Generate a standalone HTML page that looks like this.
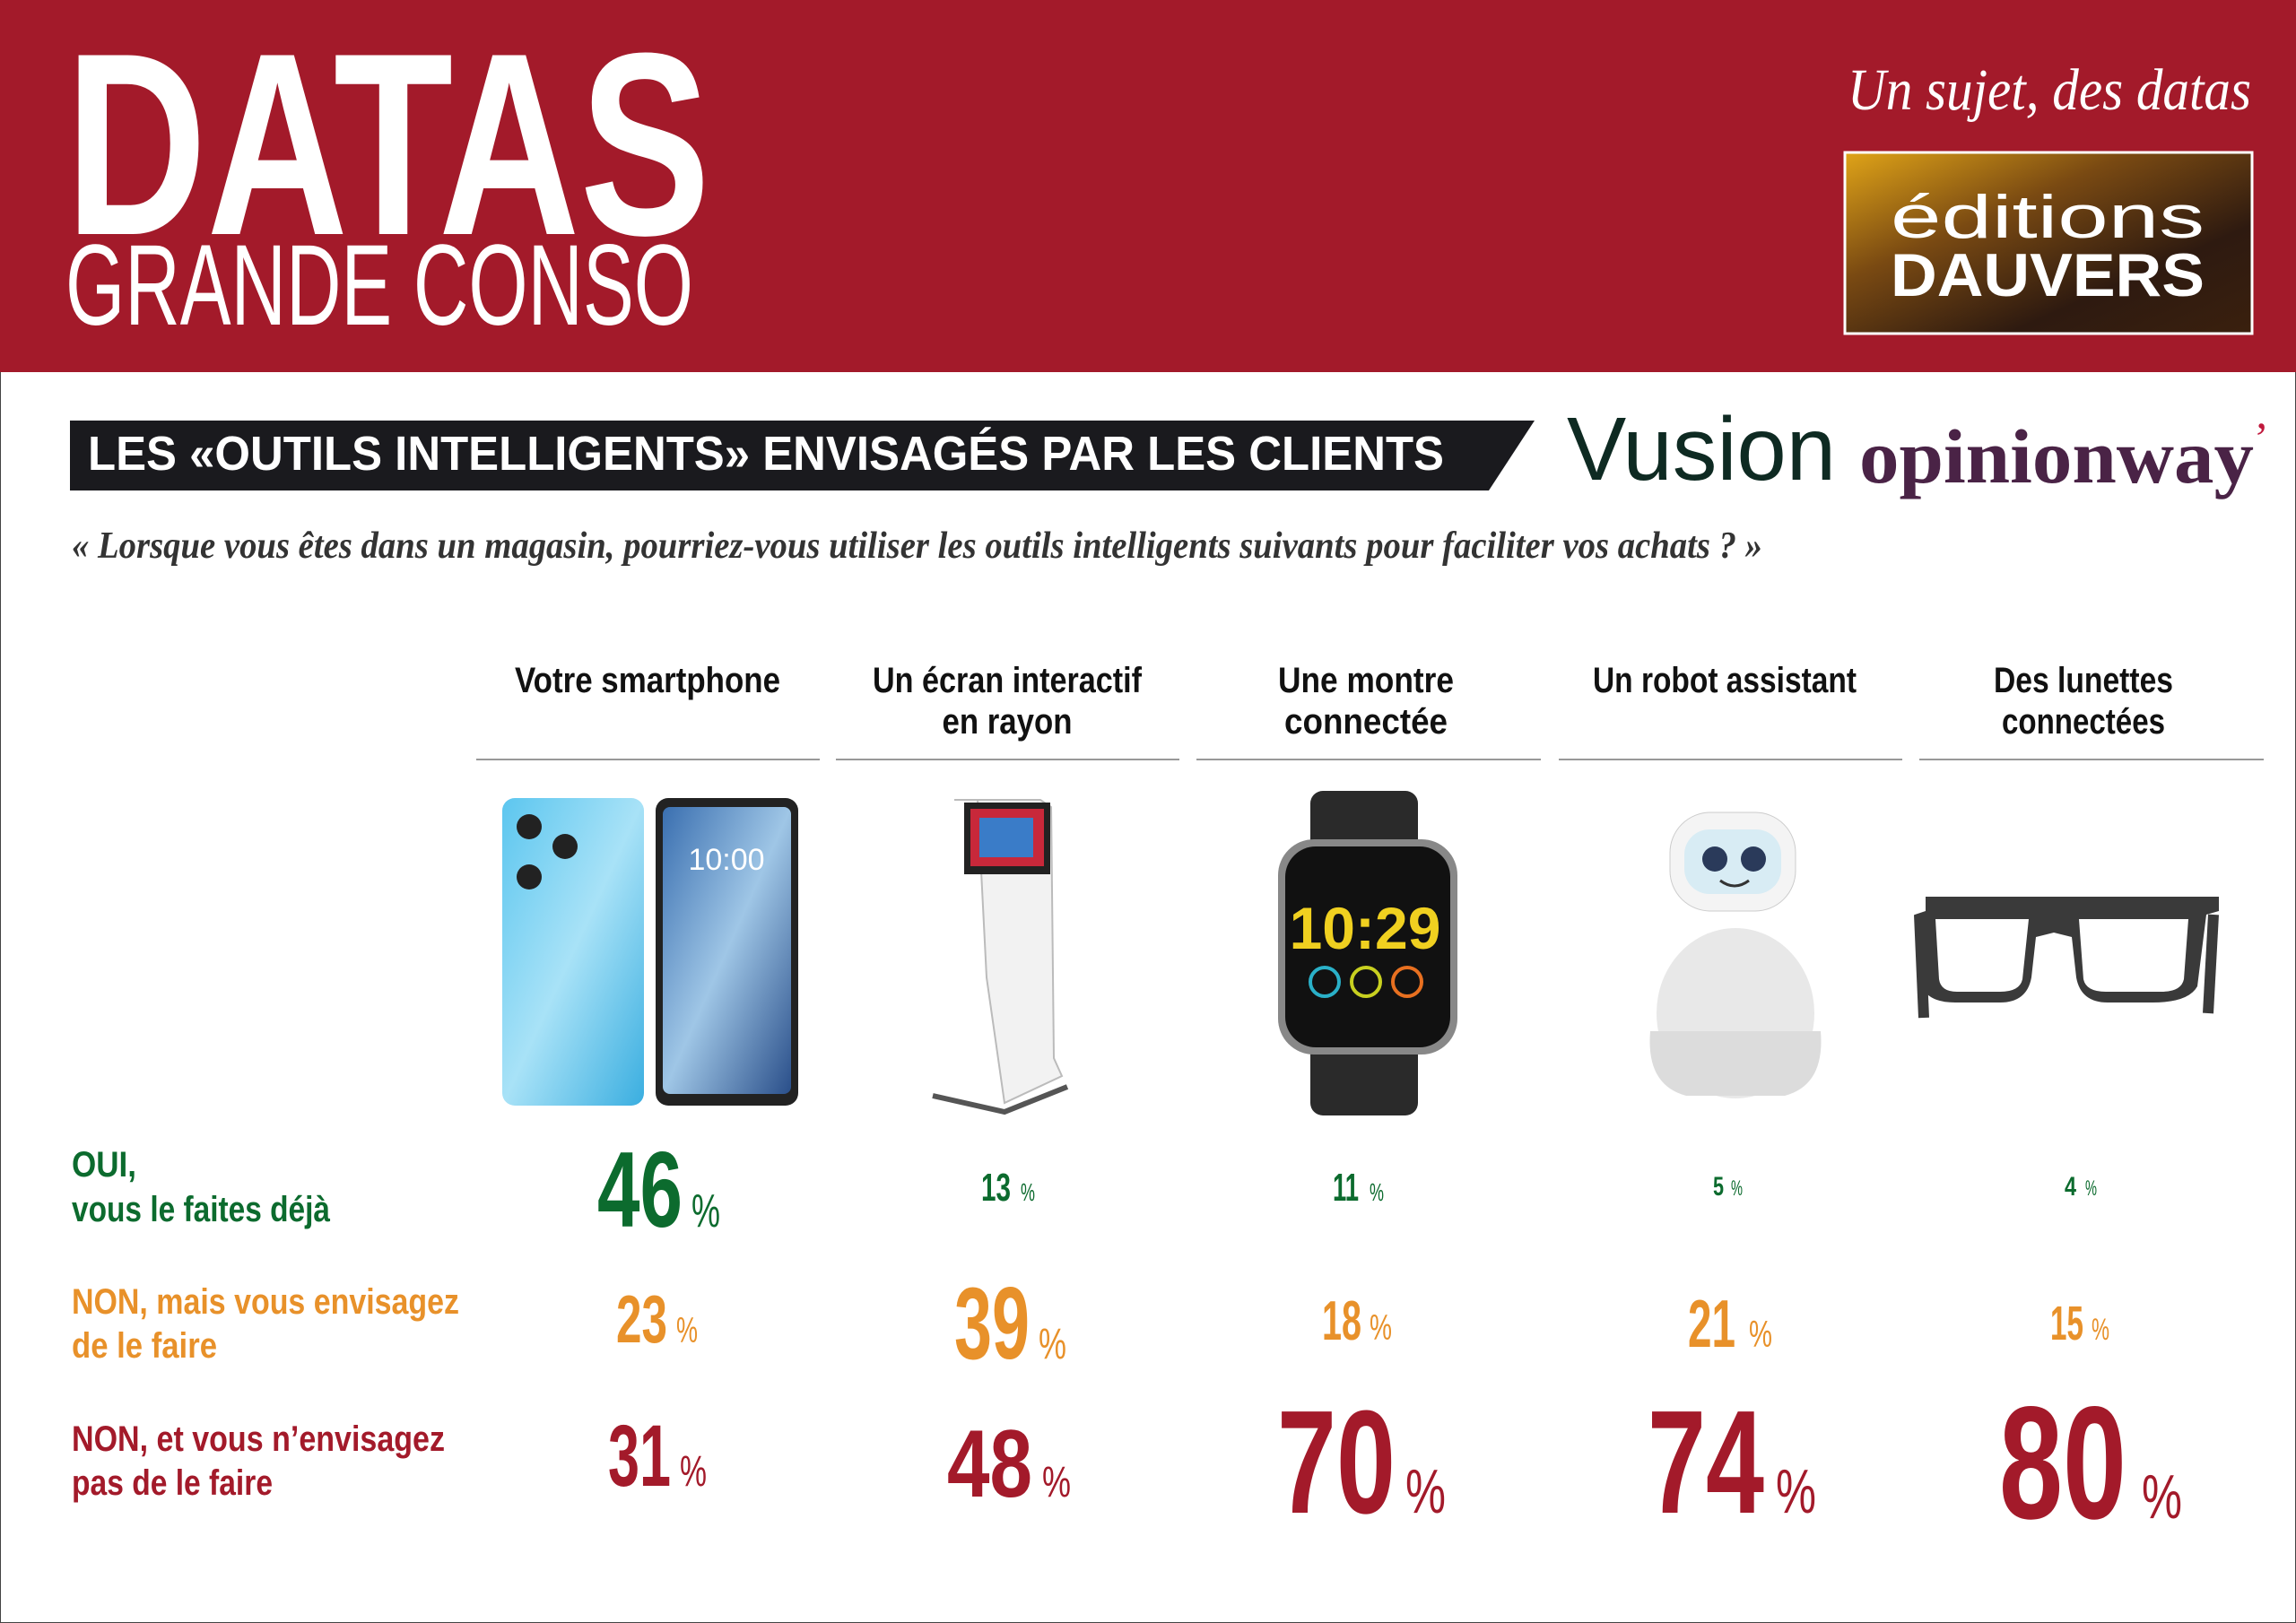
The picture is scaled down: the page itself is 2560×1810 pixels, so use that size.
<!DOCTYPE html>
<html><head><meta charset="utf-8"><style>
html,body{margin:0;padding:0;background:#fff;width:2560px;height:1810px;overflow:hidden}
svg{display:block}
text{font-family:"Liberation Sans",sans-serif}
</style></head><body>
<svg width="2560" height="1810" viewBox="0 0 2560 1810" xmlns="http://www.w3.org/2000/svg">
<defs>
<linearGradient id="lg" x1="0" y1="0" x2="1" y2="1">
<stop offset="0" stop-color="#e0a418"/><stop offset="0.35" stop-color="#7a4a12"/><stop offset="0.7" stop-color="#2e1a10"/><stop offset="1" stop-color="#3a200e"/>
</linearGradient>
<linearGradient id="blue" x1="0" y1="0" x2="1" y2="1">
<stop offset="0" stop-color="#5cc6ef"/><stop offset="0.5" stop-color="#a8e2f7"/><stop offset="1" stop-color="#3aaee0"/>
</linearGradient>
<linearGradient id="scr" x1="0" y1="0" x2="1" y2="1">
<stop offset="0" stop-color="#3a6fb0"/><stop offset="0.5" stop-color="#9fc6e6"/><stop offset="1" stop-color="#2a4f8a"/>
</linearGradient>
</defs>
<rect x="0" y="0" width="2560" height="1810" fill="#fff" stroke="#444" stroke-width="2"/>
<!-- header -->
<rect x="0" y="0" width="2560" height="415" fill="#a31a2a"/>
<text x="73" y="261" font-size="290" font-weight="bold" fill="#fff" textLength="719" lengthAdjust="spacingAndGlyphs">DATAS</text>
<text x="73" y="362" font-size="128" fill="#fff" textLength="700" lengthAdjust="spacingAndGlyphs">GRANDE CONSO</text>
<text x="2510" y="122" font-size="66" font-style="italic" fill="#fff" text-anchor="end" style="font-family:'Liberation Serif',serif" textLength="450" lengthAdjust="spacingAndGlyphs">Un sujet, des datas</text>
<rect x="2057" y="170" width="454" height="202" fill="url(#lg)" stroke="#fff" stroke-width="3"/>
<text x="2283" y="265" font-size="68" fill="#fff" text-anchor="middle" textLength="350" lengthAdjust="spacingAndGlyphs">éditions</text>
<text x="2283" y="330" font-size="68" font-weight="bold" fill="#fff" text-anchor="middle" textLength="350" lengthAdjust="spacingAndGlyphs">DAUVERS</text>
<!-- title bar -->
<polygon points="78,469 1711,469 1660,547 78,547" fill="#1a1a1e"/>
<text x="98" y="524" font-size="54" font-weight="bold" fill="#fff" textLength="1512" lengthAdjust="spacingAndGlyphs">LES «OUTILS INTELLIGENTS» ENVISAGÉS PAR LES CLIENTS</text>
<text x="1747" y="535" font-size="100" fill="#0e2a22" textLength="300" lengthAdjust="spacingAndGlyphs">Vusion</text>
<text x="2073" y="538" font-size="86" font-weight="bold" fill="#4a2346" style="font-family:'Liberation Serif',serif" textLength="440" lengthAdjust="spacingAndGlyphs">opinionway</text>
<text x="2513" y="505" font-size="50" fill="#c0183c" style="font-family:'Liberation Serif',serif">’</text>
<text x="80" y="622" font-size="42" font-style="italic" font-weight="bold" fill="#333" style="font-family:'Liberation Serif',serif" textLength="1885" lengthAdjust="spacingAndGlyphs">« Lorsque vous êtes dans un magasin, pourriez-vous utiliser les outils intelligents suivants pour faciliter vos achats ? »</text>
<!-- column headers -->
<g font-size="40" font-weight="bold" fill="#111" text-anchor="middle">
<text x="722" y="772" textLength="296" lengthAdjust="spacingAndGlyphs">Votre smartphone</text>
<text x="1123" y="772" textLength="300" lengthAdjust="spacingAndGlyphs">Un écran interactif</text>
<text x="1123" y="818" textLength="145" lengthAdjust="spacingAndGlyphs">en rayon</text>
<text x="1523" y="772" textLength="196" lengthAdjust="spacingAndGlyphs">Une montre</text>
<text x="1523" y="818" textLength="182" lengthAdjust="spacingAndGlyphs">connectée</text>
<text x="1923" y="772" textLength="294" lengthAdjust="spacingAndGlyphs">Un robot assistant</text>
<text x="2323" y="772" textLength="200" lengthAdjust="spacingAndGlyphs">Des lunettes</text>
<text x="2323" y="818" textLength="182" lengthAdjust="spacingAndGlyphs">connectées</text>
</g>
<g stroke="#999" stroke-width="2">
<line x1="531" y1="847" x2="914" y2="847"/><line x1="932" y1="847" x2="1315" y2="847"/>
<line x1="1334" y1="847" x2="1718" y2="847"/><line x1="1738" y1="847" x2="2121" y2="847"/>
<line x1="2140" y1="847" x2="2524" y2="847"/>
</g>
<!-- phone -->
<rect x="560" y="890" width="158" height="343" rx="14" fill="url(#blue)"/>
<circle cx="590" cy="922" r="14" fill="#222"/><circle cx="630" cy="944" r="14" fill="#222"/><circle cx="590" cy="978" r="14" fill="#222"/>
<rect x="731" y="890" width="159" height="343" rx="14" fill="#222"/>
<rect x="739" y="900" width="143" height="320" rx="8" fill="url(#scr)"/>
<text x="810" y="970" font-size="34" fill="#fff" text-anchor="middle">10:00</text>
<!-- kiosk -->
<path d="M1064 892 L1090 892 L1100 1090 L1120 1230 L1184 1200 L1175 1180 L1172 900 L1160 892 Z" fill="#f2f2f2" stroke="#bbb" stroke-width="2"/>
<rect x="1075" y="895" width="96" height="80" fill="#222"/>
<rect x="1082" y="902" width="82" height="64" fill="#c8283a"/>
<rect x="1092" y="912" width="60" height="44" fill="#3a7cc8"/>
<path d="M1040 1222 L1120 1240 L1190 1212" stroke="#555" stroke-width="6" fill="none"/>
<!-- watch -->
<rect x="1461" y="882" width="120" height="362" rx="14" fill="#2a2a2a"/>
<rect x="1425" y="936" width="200" height="240" rx="40" fill="#888"/>
<rect x="1433" y="944" width="184" height="224" rx="34" fill="#111"/>
<text x="1522" y="1058" font-size="66" font-weight="bold" fill="#f0d020" text-anchor="middle">10:29</text>
<circle cx="1477" cy="1095" r="16" fill="none" stroke="#2ab0c8" stroke-width="4"/>
<circle cx="1523" cy="1095" r="16" fill="none" stroke="#c8d020" stroke-width="4"/>
<circle cx="1569" cy="1095" r="16" fill="none" stroke="#e87020" stroke-width="4"/>
<!-- robot -->
<ellipse cx="1935" cy="1130" rx="88" ry="95" fill="#e8e8e8"/>
<path d="M1840 1150 Q1835 1210 1880 1222 L1990 1222 Q2035 1210 2030 1150 Z" fill="#dcdcdc"/>
<rect x="1862" y="906" width="140" height="110" rx="45" fill="#f4f4f4" stroke="#ccc"/>
<rect x="1878" y="925" width="108" height="72" rx="28" fill="#d8ecf4"/>
<circle cx="1912" cy="958" r="14" fill="#2a3a5a"/><circle cx="1955" cy="958" r="14" fill="#2a3a5a"/>
<path d="M1918 982 Q1934 994 1950 982" stroke="#333" stroke-width="3" fill="none"/>
<!-- glasses -->
<path d="M2147 1000 L2474 1000 L2474 1016 L2460 1020 L2450 1100 Q2440 1118 2400 1118 L2350 1118 Q2320 1118 2315 1090 L2310 1045 L2290 1040 L2270 1045 L2265 1090 Q2260 1118 2230 1118 L2180 1118 Q2150 1118 2143 1100 L2135 1020 L2147 1016 Z" fill="#3a3a3a"/>
<path d="M2158 1025 L2262 1025 L2255 1092 Q2252 1106 2230 1106 L2182 1106 Q2164 1106 2162 1092 Z" fill="#fff"/>
<path d="M2318 1025 L2440 1025 L2435 1092 Q2432 1106 2410 1106 L2348 1106 Q2326 1106 2323 1092 Z" fill="#fff"/>
<path d="M2140 1020 L2145 1135" stroke="#3a3a3a" stroke-width="12"/><path d="M2468 1020 L2462 1130" stroke="#3a3a3a" stroke-width="12"/>
<!-- row labels -->
<g font-size="40" font-weight="bold">
<text x="80" y="1312" fill="#0c6b2e" textLength="72" lengthAdjust="spacingAndGlyphs">OUI,</text>
<text x="80" y="1362" fill="#0c6b2e" textLength="288" lengthAdjust="spacingAndGlyphs">vous le faites déjà</text>
<text x="80" y="1465" fill="#e8912a" textLength="432" lengthAdjust="spacingAndGlyphs">NON, mais vous envisagez</text>
<text x="80" y="1514" fill="#e8912a" textLength="162" lengthAdjust="spacingAndGlyphs">de le faire</text>
<text x="80" y="1618" fill="#a31a2a" textLength="416" lengthAdjust="spacingAndGlyphs">NON, et vous n’envisagez</text>
<text x="80" y="1667" fill="#a31a2a" textLength="224" lengthAdjust="spacingAndGlyphs">pas de le faire</text>
</g>
<!-- numbers -->
<g font-weight="bold">
<text x="666" y="1368" font-size="120" fill="#0c6b2e" textLength="95" lengthAdjust="spacingAndGlyphs">46</text>
<text x="1094" y="1339" font-size="44" fill="#0c6b2e" textLength="33" lengthAdjust="spacingAndGlyphs">13</text>
<text x="1486" y="1339" font-size="44" fill="#0c6b2e" textLength="29" lengthAdjust="spacingAndGlyphs">11</text>
<text x="1910" y="1333" font-size="30" fill="#0c6b2e" textLength="12" lengthAdjust="spacingAndGlyphs">5</text>
<text x="2302" y="1333" font-size="30" fill="#0c6b2e" textLength="13" lengthAdjust="spacingAndGlyphs">4</text>
<text x="687" y="1497" font-size="75" fill="#e8912a" textLength="57" lengthAdjust="spacingAndGlyphs">23</text>
<text x="1064" y="1515" font-size="114" fill="#e8912a" textLength="84" lengthAdjust="spacingAndGlyphs">39</text>
<text x="1474" y="1494" font-size="62" fill="#e8912a" textLength="44" lengthAdjust="spacingAndGlyphs">18</text>
<text x="1882" y="1502" font-size="75" fill="#e8912a" textLength="53" lengthAdjust="spacingAndGlyphs">21</text>
<text x="2286" y="1494" font-size="54" fill="#e8912a" textLength="37" lengthAdjust="spacingAndGlyphs">15</text>
<text x="678" y="1657" font-size="97" fill="#a31a2a" textLength="70" lengthAdjust="spacingAndGlyphs">31</text>
<text x="1056" y="1669" font-size="107" fill="#a31a2a" textLength="95" lengthAdjust="spacingAndGlyphs">48</text>
<text x="1424" y="1687" font-size="164" fill="#a31a2a" textLength="132" lengthAdjust="spacingAndGlyphs">70</text>
<text x="1837" y="1687" font-size="164" fill="#a31a2a" textLength="130" lengthAdjust="spacingAndGlyphs">74</text>
<text x="2229" y="1693" font-size="179" fill="#a31a2a" textLength="142" lengthAdjust="spacingAndGlyphs">80</text>
</g>
<g>
<text x="771" y="1368" font-size="52" fill="#0c6b2e" textLength="32" lengthAdjust="spacingAndGlyphs">%</text>
<text x="1138" y="1339" font-size="28" fill="#0c6b2e" textLength="16" lengthAdjust="spacingAndGlyphs">%</text>
<text x="1527" y="1339" font-size="28" fill="#0c6b2e" textLength="16" lengthAdjust="spacingAndGlyphs">%</text>
<text x="1930" y="1333" font-size="24" fill="#0c6b2e" textLength="13" lengthAdjust="spacingAndGlyphs">%</text>
<text x="2325" y="1333" font-size="24" fill="#0c6b2e" textLength="13" lengthAdjust="spacingAndGlyphs">%</text>
<text x="754" y="1497" font-size="40" fill="#e8912a" textLength="24" lengthAdjust="spacingAndGlyphs">%</text>
<text x="1158" y="1515" font-size="48" fill="#e8912a" textLength="31" lengthAdjust="spacingAndGlyphs">%</text>
<text x="1527" y="1494" font-size="40" fill="#e8912a" textLength="25" lengthAdjust="spacingAndGlyphs">%</text>
<text x="1950" y="1502" font-size="42" fill="#e8912a" textLength="26" lengthAdjust="spacingAndGlyphs">%</text>
<text x="2332" y="1494" font-size="34" fill="#e8912a" textLength="20" lengthAdjust="spacingAndGlyphs">%</text>
<text x="758" y="1657" font-size="48" fill="#a31a2a" textLength="30" lengthAdjust="spacingAndGlyphs">%</text>
<text x="1162" y="1669" font-size="48" fill="#a31a2a" textLength="32" lengthAdjust="spacingAndGlyphs">%</text>
<text x="1567" y="1687" font-size="70" fill="#a31a2a" textLength="45" lengthAdjust="spacingAndGlyphs">%</text>
<text x="1980" y="1687" font-size="70" fill="#a31a2a" textLength="45" lengthAdjust="spacingAndGlyphs">%</text>
<text x="2388" y="1693" font-size="70" fill="#a31a2a" textLength="45" lengthAdjust="spacingAndGlyphs">%</text>
</g>
</svg>
</body></html>
